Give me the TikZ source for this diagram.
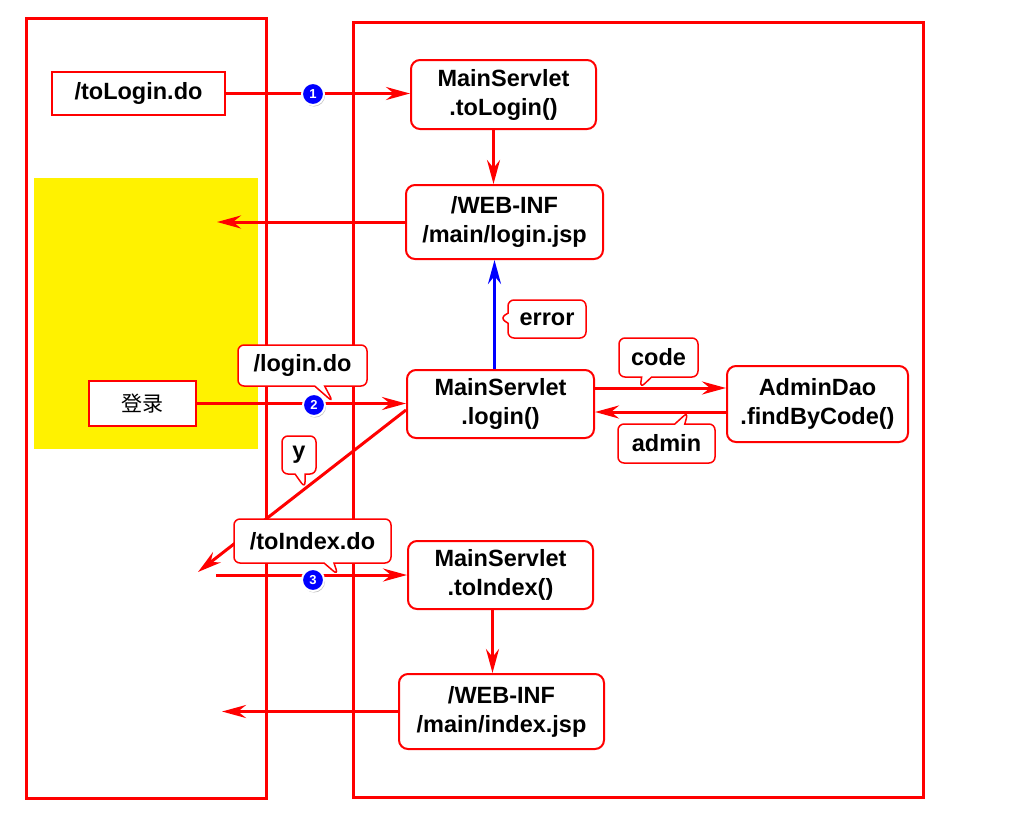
\documentclass[tikz,border=0pt]{standalone}
\usepackage{fontspec}
\setmainfont{Liberation Sans}
\newfontfamily\cjk{Noto Sans CJK SC}
\usetikzlibrary{arrows.meta,shapes.callouts,shadows}

\begin{document}
\begin{tikzpicture}[x=1pt,y=-1pt,
   font=\fontsize{23.5}{29}\selectfont\bfseries,
   frame/.style={draw=red,line width=3pt},
   plainbox/.style={draw=red,line width=2pt,fill=white,inner sep=0pt},
   servlet/.style={draw=red,line width=2pt,rounded corners=9pt,fill=white,align=center,inner sep=0pt},
   link/.style={draw=red,line width=3pt,-{Stealth[length=24pt,width=13pt,inset=8pt]}},
   tip/.style={rectangle callout,draw=red,line width=1.5pt,rounded corners=6pt,fill=white,inner sep=0pt,callout pointer width=10pt},
   num/.style={circle,fill=blue,draw=white,line width=2pt,text=white,font=\fontsize{13}{13}\selectfont\bfseries,inner sep=0pt,minimum size=22pt,drop shadow={shadow xshift=1pt,shadow yshift=-1.5pt,opacity=.5}}]
   \fill[white] (0,0) rectangle (1024,830);
   \useasboundingbox (0,0) rectangle (1024,830);
   \draw[frame] (26,18) rectangle (266,798);
   \draw[frame] (353,22) rectangle (923,797);
   \fill[yellow] (34,178) rectangle (258,449);

   \node[plainbox,minimum width=173pt,minimum height=43pt] (tologin) at (138.5,93.5) {/toLogin.do};
   \node[servlet,minimum width=185pt,minimum height=69pt] (mstologin) at (503.5,94.5) {MainServlet\\.toLogin()};
   \node[servlet,minimum width=197pt,minimum height=74pt] (loginjsp) at (504.5,222) {/WEB-INF\\/main/login.jsp};
   \node[servlet,minimum width=187pt,minimum height=68pt] (mslogin) at (500.5,404) {MainServlet\\.login()};
   \node[servlet,minimum width=181pt,minimum height=76pt] (admindao) at (817.5,404) {AdminDao\\.findByCode()};
   \node[plainbox,minimum width=107pt,minimum height=45pt,font={\fontsize{21}{21}\selectfont\mdseries\cjk}] (denglu) at (142.5,403.5) {登录};
   \node[servlet,minimum width=185pt,minimum height=68pt] (mstoindex) at (500.5,575) {MainServlet\\.toIndex()};
   \node[servlet,minimum width=205pt,minimum height=75pt] (indexjsp) at (501.5,711.5) {/WEB-INF\\/main/index.jsp};

   \coordinate (loginback) at (217,222);
   \coordinate (failback) at (198,572);
   \coordinate (indexstart) at (216,575);
   \coordinate (indexback) at (222,711.5);

   \draw[link] (tologin.east) -- (tologin.east -| mstologin.west);
   \draw[link] ([xshift=-10pt]mstologin.south) -- ([xshift=-10pt]mstologin.south |- loginjsp.north);
   \draw[link] (loginjsp.west) -- (loginback);
   \draw[link,draw=blue] ([xshift=-6pt]mslogin.north) -- ([xshift=-6pt]mslogin.north |- loginjsp.south);
   \draw[link] ([yshift=16pt]mslogin.east) -- ([yshift=16pt]mslogin.east -| admindao.west);
   \draw[link] ([yshift=-8pt]admindao.west) -- ([yshift=-8pt]admindao.west -| mslogin.east);
   \draw[link] (denglu.east) -- (denglu.east -| mslogin.west);
   \draw[link] ([yshift=-6pt]mslogin.west) -- (failback);
   \draw[link] (indexstart) -- (mstoindex.west);
   \draw[link] ([xshift=-8pt]mstoindex.south) -- ([xshift=-8pt]mstoindex.south |- indexjsp.north);
   \draw[link] (indexjsp.west) -- (indexback);

   \node[tip,minimum width=78pt,minimum height=38pt,callout absolute pointer={(500,318)}] (error) at (547,319) {error};
   \node[tip,minimum width=79pt,minimum height=39pt,callout absolute pointer={(640,388)}] (code) at (658.5,357.5) {code};
   \node[tip,minimum width=97pt,minimum height=39pt,callout absolute pointer={(688,412)}] (admin) at (666.5,443.5) {admin};
   \node[tip,minimum width=129pt,minimum height=41pt,callout absolute pointer={(333,402)}] (logindo) at (302.5,365.5) {/login.do};
   \node[tip,minimum width=34pt,minimum height=38pt,callout absolute pointer={(305,488)}] (yes) at (299,455) {y};
   \node[tip,minimum width=157pt,minimum height=44pt,callout absolute pointer={(338,575)}] (toindexdo) at (312.5,541) {/toIndex.do};

   \node[num] (n1) at (313,94) {1};
   \node[num] (n2) at (314,405) {2};
   \node[num] (n3) at (313,580) {3};
  \end{tikzpicture}
\end{document}
